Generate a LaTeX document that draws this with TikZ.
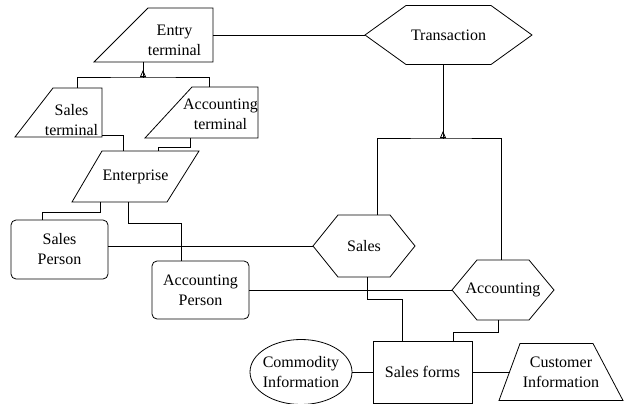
\documentclass[tikz,border=0pt]{standalone}
\usepackage{fontspec}
\setmainfont{Liberation Serif}
\usetikzlibrary{arrows.meta,shapes.geometric}

% hexagon drawn round a plain box node: #1 node name, #2 depth of the points
\newcommand{\hexframe}[2]{%
  \draw (#1.west) -- ([shift={(#2,0)}]#1.north west) -- ([shift={(-#2,0)}]#1.north east)
    -- (#1.east) -- ([shift={(-#2,0)}]#1.south east) -- ([shift={(#2,0)}]#1.south west) -- cycle;}
% four-sided frame round a box node: insets of top left, top right, bottom left, bottom right
\newcommand{\quadframe}[5]{%
  \draw ([shift={(#2,0)}]#1.north west) -- ([shift={(-#3,0)}]#1.north east)
    -- ([shift={(-#5,0)}]#1.south east) -- ([shift={(#4,0)}]#1.south west) -- cycle;}

\tikzset{
  every node/.style={font=\fontsize{16}{20}\selectfont, align=center, outer sep=0pt},
  plainbox/.style={inner sep=0pt},
  person/.style={draw, rounded corners=5pt, inner sep=0pt},
  formbox/.style={draw, inner sep=0pt},
  infobox/.style={draw, ellipse, inner xsep=-4pt, inner ysep=0pt},
  isa/.style={-{Triangle[open, length=7pt, width=6pt]}}
}

\begin{document}
\begin{tikzpicture}[x=1pt, y=-1pt, line width=0.8pt]
    \useasboundingbox (0,0) rectangle (629,404);

    % terminals and enterprise
    \node[plainbox, minimum width=119pt, minimum height=54pt] (entry) at (153.5,35) {};
    \quadframe{entry}{54}{0}{0}{0}
    \node (entryTxt) at ([shift={(21,5)}]entry.center) {Entry\\terminal};
    \node[plainbox, minimum width=87pt, minimum height=49pt] (sterm) at (58.5,112.5) {};
    \quadframe{sterm}{38}{0}{0}{0}
    \node (stermTxt) at ([shift={(13,8)}]sterm.center) {Sales\\terminal};
    \node[plainbox, minimum width=113pt, minimum height=51pt] (aterm) at (201.5,112.5) {};
    \quadframe{aterm}{47}{0}{0}{0}
    \node (atermTxt) at ([shift={(19,2)}]aterm.center) {Accounting\\terminal};
    \node[plainbox, minimum width=127pt, minimum height=51pt] (ent) at (135.5,176.5) {Enterprise};
    \quadframe{ent}{30}{0}{0}{32}

    % transactions
    \node[plainbox, minimum width=167pt, minimum height=59pt] (trans) at (448.5,35) {Transaction};
    \hexframe{trans}{41}
    \node[plainbox, minimum width=102pt, minimum height=62pt] (sales) at (364,246) {Sales};
    \hexframe{sales}{25}
    \node[plainbox, minimum width=102pt, minimum height=60pt] (acc) at (503,290) {Accounting};
    \hexframe{acc}{25}

    % persons and forms
    \node[person, minimum width=97pt, minimum height=59pt] (spers) at (59.5,249.5) {Sales\\Person};
    \node[person, minimum width=97pt, minimum height=58pt] (apers) at (200.5,290) {Accounting\\Person};
    \node[formbox, minimum width=99pt, minimum height=62pt] (sforms) at (422.5,372) {Sales forms};
    \node[infobox, minimum width=102pt, minimum height=65pt] (comm) at (301,372) {Commodity\\Information};
    \node[plainbox, minimum width=124pt, minimum height=57pt] (cust) at (561,372) {Customer\\Information};
    \quadframe{cust}{21}{30}{0}{0}

    % connectors
    \draw (entry.east) -- (trans.west);
    \coordinate (entryFork) at (143,77);
    \draw (entryFork |- entry.south) -- (entryFork);
    \draw[isa] (entryFork) -- ++(0,-7);
    \draw ([xshift=18.5pt]sterm.north) |- (entryFork) -| ([xshift=7.5pt]aterm.north);
    \draw ([yshift=2pt]sterm.south east) -| ([xshift=-12.5pt]ent.north);
    \draw ([xshift=-11.5pt]aterm.south) -- ++(0,9) -| ([xshift=22.5pt]ent.north);
    \draw ([xshift=-35.5pt]ent.south) -- ++(0,10) -| ([xshift=-17.5pt]spers.north);
    \draw ([xshift=-7.5pt]ent.south) -- ++(0,21) -| ([xshift=-19.5pt]apers.north);
    \draw (spers.east |- sales.west) -- (sales.west);
    \draw (apers.east) -- (acc.west);
    \coordinate (transFork) at (443,138);
    \draw (transFork |- trans.south) -- (transFork);
    \draw[isa] (transFork) -- ++(0,-7);
    \draw ([xshift=13pt]sales.north) |- (transFork) -| ([xshift=-2pt]acc.north);
    \draw ([xshift=3pt]sales.south) -- ++(0,22) -| ([xshift=-20.5pt]sforms.north);
    \draw ([xshift=-5pt]acc.south) -- ++(0,12) -| ([xshift=30.5pt]sforms.north);
    \draw (comm.east) -- (sforms.west);
    \draw (sforms.east) -- ([xshift=10.5pt]cust.west);
\end{tikzpicture}
\end{document}
